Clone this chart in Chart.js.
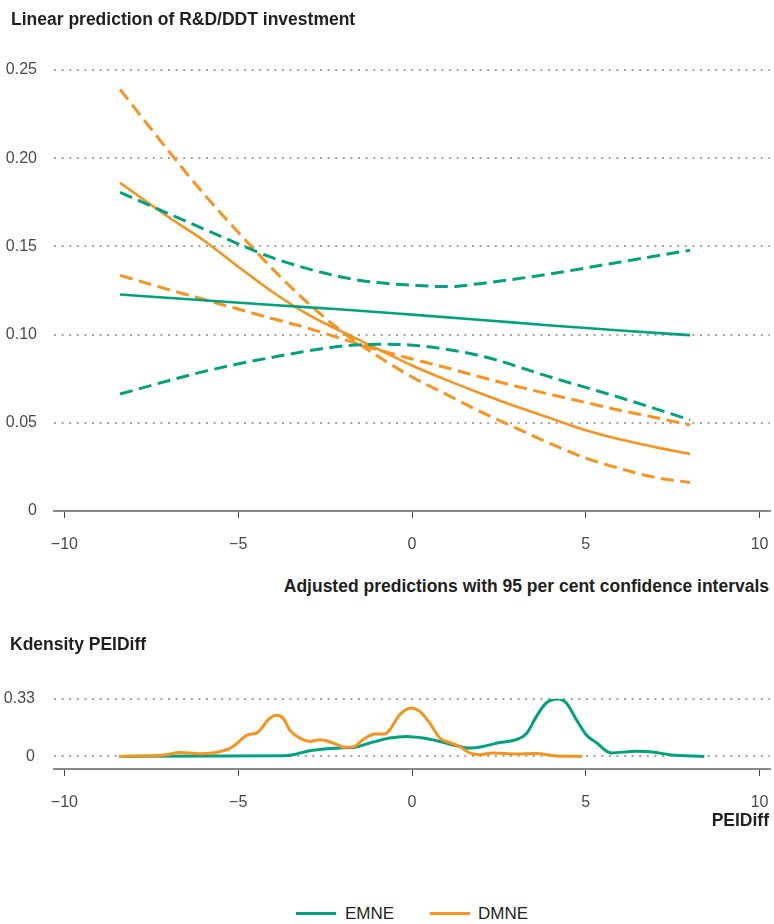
<!DOCTYPE html>
<html>
<head>
<meta charset="utf-8">
<script src="https://cdn.jsdelivr.net/npm/chart.js@4.4.1/dist/chart.umd.min.js"></script>
<style>
  html, body { margin: 0; padding: 0; background: #ffffff; }
  body { width: 774px; height: 924px; position: relative; overflow: hidden;
         font-family: "Liberation Sans Narrow", "Liberation Sans", Arial, sans-serif; color: #231f20; }
  .t { position: absolute; white-space: nowrap; font-weight: bold; font-size: 17.5px; line-height: 1; }
  .wrap { position: absolute; left: 0; width: 774px; }
  .leg { position: absolute; white-space: nowrap; font-size: 17px; line-height: 1; color: #231f20; }
  .legline { position: absolute; height: 3px; width: 40px; }
</style>
</head>
<body>
<div class="wrap" style="top:0;height:560px;"><canvas id="c1" width="774" height="560"></canvas></div>
<div class="wrap" style="top:650px;height:168px;"><canvas id="c2" width="774" height="168"></canvas></div>

<div class="t" style="left:11px;top:11px;">Linear prediction of R&amp;D/DDT investment</div>
<div class="t" style="right:5px;top:578px;">Adjusted predictions with 95 per cent confidence intervals</div>
<div class="t" style="left:10px;top:636px;">Kdensity PEIDiff</div>
<div class="t" style="right:5px;top:812px;">PEIDiff</div>

<div class="legline" style="left:296px;top:912px;background:#00a282;"></div>
<div class="leg" style="left:345px;top:905px;">EMNE</div>
<div class="legline" style="left:430px;top:912px;background:#f7931e;"></div>
<div class="leg" style="left:478px;top:905px;">DMNE</div>

<script>
// ---------- Data: top panel (adjusted predictions) ----------
const xTicks = [-10, -5, 0, 5, 10];
const predYTicks = [0, 0.05, 0.10, 0.15, 0.20, 0.25];

const emneFitX   = [-8.4, -6, -4, -2, 0, 2, 4, 6, 8];
const emneFitY   = [0.1227, 0.1195, 0.1168, 0.1142, 0.1113, 0.1083, 0.1052, 0.1023, 0.0997];

const emneUpX    = [-8.4, -6, -4, -2, -1, 0, 1, 2, 4, 6, 8];
const emneUpY    = [0.1806, 0.1600, 0.1435, 0.1325, 0.1295, 0.1280, 0.1272, 0.1290, 0.1345, 0.1412, 0.1478];

const emneLoX    = [-8.4, -6, -4, -2, -1, 0, 2, 4, 6, 8];
const emneLoY    = [0.0663, 0.0790, 0.0872, 0.0935, 0.0945, 0.0940, 0.0878, 0.0758, 0.0642, 0.0517];

const dmneFitX   = [-8.4, -7.5, -7, -6, -5, -4, -3, -2, -1, 0, 1, 2, 3, 4, 5, 6, 7, 8];
const dmneFitY   = [0.186, 0.1735, 0.1665, 0.1535, 0.1385, 0.124, 0.1115, 0.1015, 0.092, 0.0825, 0.0742, 0.0665, 0.0592, 0.0525, 0.0458, 0.0405, 0.0362, 0.0323];

const dmneCiAX   = [-8.4, -7, -6, -5, -4, -3, -2, -1, 0, 1, 2, 3, 4, 5, 6, 7, 8];
const dmneCiAY   = [0.239, 0.204, 0.180, 0.158, 0.137, 0.118, 0.1015, 0.088, 0.076, 0.066, 0.056, 0.047, 0.038, 0.030, 0.024, 0.019, 0.0162];

const dmneCiBX   = [-8.4, -7, -6, -5, -4, -3, -2, -1, 0, 1, 2, 3, 4, 5, 6, 7, 8];
const dmneCiBY   = [0.1336, 0.1255, 0.1200, 0.1145, 0.1090, 0.1037, 0.0975, 0.0915, 0.0862, 0.0812, 0.0758, 0.0707, 0.0660, 0.0615, 0.0570, 0.0530, 0.0488];

// ---------- Data: bottom panel (kernel density of PEIDiff) ----------
const densYTicks = [0, 0.33];

const emneDensX = [-8.42, -3.71, -3.42, -2.94, -2.56, -2.08, -1.6, -1.22, -0.64, -0.16, 0.32, 0.8, 1.28, 1.66, 2.04, 2.52, 3.0, 3.29, 3.58, 3.86, 4.2, 4.44, 4.73, 5.01, 5.3, 5.73, 6.45, 6.93, 7.41, 8.41];
const emneDensY = [0, 0.004, 0.01, 0.033, 0.042, 0.048, 0.054, 0.077, 0.106, 0.115, 0.106, 0.086, 0.061, 0.048, 0.057, 0.08, 0.096, 0.13, 0.23, 0.307, 0.33, 0.307, 0.211, 0.125, 0.08, 0.02, 0.029, 0.025, 0.01, 0];

const dmneDensX = [-8.42, -7.06, -6.68, -6.1, -5.33, -5.15, -4.71, -4.47, -4.09, -3.9, -3.71, -3.52, -3.28, -2.94, -2.65, -2.27, -1.93, -1.65, -1.41, -1.07, -0.78, -0.64, -0.35, -0.02, 0.22, 0.51, 0.8, 1.08, 1.37, 1.66, 1.95, 2.33, 3.0, 3.58, 4.15, 4.9];
const dmneDensY = [0, 0.01, 0.023, 0.015, 0.038, 0.057, 0.125, 0.134, 0.22, 0.236, 0.22, 0.153, 0.111, 0.086, 0.096, 0.077, 0.052, 0.058, 0.096, 0.129, 0.129, 0.153, 0.24, 0.278, 0.259, 0.192, 0.106, 0.08, 0.057, 0.02, 0.01, 0.02, 0.014, 0.016, 0.002, 0];

// ---------- Styling ----------
const GREEN = '#00a282';
const ORANGE = '#f7931e';
const tickFont = { family: '"Liberation Sans", Arial, sans-serif', size: 16, weight: 'normal' };
const tickColor = '#4a4a4a';

function pts(xs, ys) { return xs.map((x, i) => ({ x: x, y: ys[i] })); }
function line(label, xs, ys, color, dashed, width) {
  return {
    label: label, data: pts(xs, ys), borderColor: color, backgroundColor: color,
    borderWidth: width, borderDash: dashed ? [13, 6.5] : [], fill: false,
    pointRadius: 0, cubicInterpolationMode: 'monotone', borderCapStyle: 'butt'
  };
}
const fmtX = v => (v < 0 ? '\u2212' + Math.abs(v) : String(v));
const fmtY = v => (v === 0 ? '0' : v.toFixed(2));

function xScale() {
  return {
    type: 'linear', min: -10.3, max: 10.3,
    afterBuildTicks: s => { s.ticks = xTicks.map(v => ({ value: v })); },
    afterFit: s => { s.height = 49; s.paddingLeft = 0; s.paddingRight = 0; },
    grid: { drawOnChartArea: false, drawTicks: true, tickLength: 7, tickColor: '#444', tickWidth: 1, color: '#444' },
    border: { display: true, color: '#888888', width: 2 },
    ticks: { padding: 17, font: tickFont, color: tickColor, callback: v => fmtX(v), maxRotation: 0, autoSkip: false }
  };
}
function yScale(min, max, tickVals, hideZero, pad) {
  return {
    type: 'linear', min: min, max: max,
    afterBuildTicks: s => { s.ticks = tickVals.map(v => ({ value: v })); },
    afterFit: s => { s.width = 54; s.paddingTop = 0; s.paddingBottom = 0; },
    grid: {
      drawTicks: false, lineWidth: 2,
      color: c => (hideZero && c.tick && c.tick.value === 0) ? 'rgba(0,0,0,0)' : '#a3a3a3'
    },
    border: { display: false, dash: [2, 5.6] },
    ticks: { padding: pad, font: tickFont, color: tickColor, callback: v => fmtY(v), autoSkip: false }
  };
}
const common = {
  responsive: false, animation: false,
  plugins: { legend: { display: false }, tooltip: { enabled: false }, title: { display: false } },
  elements: { point: { radius: 0 } }
};

new Chart(document.getElementById('c1'), {
  type: 'line',
  data: {
    datasets: [
      line('EMNE', emneFitX, emneFitY, GREEN, false, 2.6),
      line('EMNE upper CI', emneUpX, emneUpY, GREEN, true, 3),
      line('EMNE lower CI', emneLoX, emneLoY, GREEN, true, 3),
      line('DMNE', dmneFitX, dmneFitY, ORANGE, false, 2.6),
      line('DMNE CI', dmneCiAX, dmneCiAY, ORANGE, true, 3),
      line('DMNE CI', dmneCiBX, dmneCiBY, ORANGE, true, 3)
    ]
  },
  options: Object.assign({}, common, {
    layout: { padding: { top: 70, right: 4, left: 0, bottom: 0 } },
    scales: { x: xScale(), y: yScale(0, 0.25, predYTicks, true, 17) }
  })
});

new Chart(document.getElementById('c2'), {
  type: 'line',
  data: {
    datasets: [
      line('DMNE', dmneDensX, dmneDensY, ORANGE, false, 3),
      line('EMNE', emneDensX, emneDensY, GREEN, false, 3)
    ]
  },
  options: Object.assign({}, common, {
    layout: { padding: { top: 49, right: 4, left: 0, bottom: 0 } },
    scales: { x: xScale(), y: yScale(-0.0725, 0.33, densYTicks, false, 19) }
  })
});
</script>
</body>
</html>
